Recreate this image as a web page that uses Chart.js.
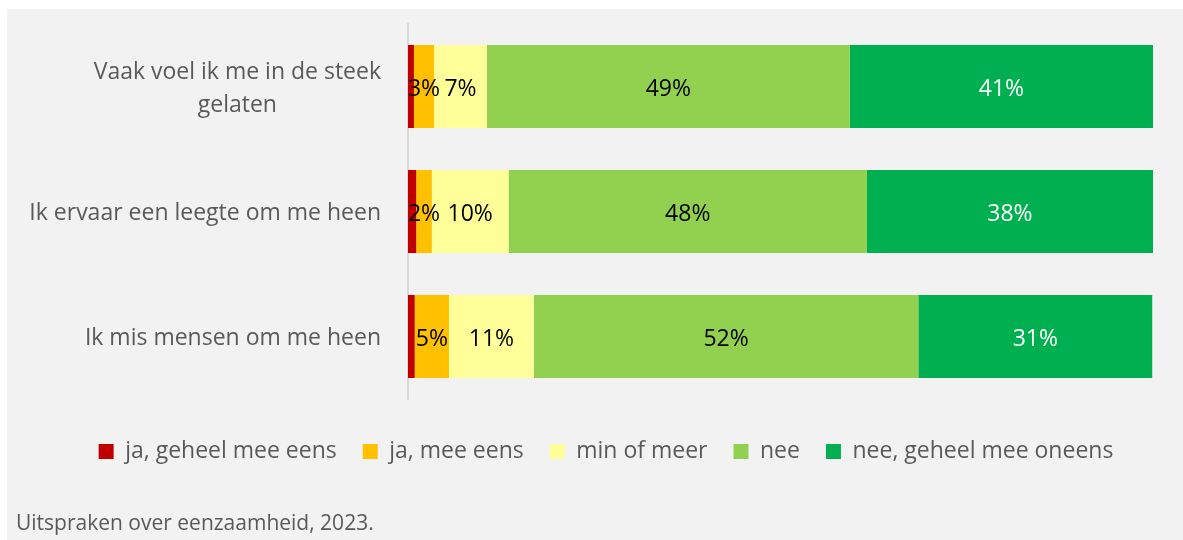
<!DOCTYPE html>
<html>
<head>
<meta charset="utf-8">
<script src="https://cdn.jsdelivr.net/npm/chart.js@4"></script>
<style>
  body { margin: 0; background: #ffffff; }
  #panel { position: absolute; left: 7px; top: 9px; width: 1176px; height: 531px; background: #f2f2f2; }
  #chartcontainer { position: absolute; left: 0; top: 0; }
  #footer { position: absolute; left: 9px; top: 499px; font-family: "Open Sans", sans-serif; font-size: 21px; color: #595959; }
</style>
</head>
<body>
<div id="panel">
  <canvas id="chartcontainer" width="1176" height="531"></canvas>
  <div id="footer">Uitspraken over eenzaamheid, 2023.</div>
</div>
<script>
// statements (multi-line labels as shown in the picture)
var categories = [
    ["Vaak voel ik me in de steek", "gelaten"],
    ["Ik ervaar een leegte om me heen"],
    ["Ik mis mensen om me heen"]
];
var seriesNames = ["ja, geheel mee eens", "ja, mee eens", "min of meer", "nee", "nee, geheel mee oneens"];
var seriesColors = ["#C00000", "#FFC000", "#FFFF99", "#92D050", "#00B050"];

// percentages per statement
var jaGeheel = [0.8, 1.1, 0.9];
var jaMee = [2.7, 2.1, 4.6];
var minOfMeer = [7.1, 10.3, 11.4];
var nee = [48.7, 48.1, 51.6];
var neeGeheel = [40.7, 38.4, 31.4];

var FONT = '"Open Sans", sans-serif';
var TEXT_GREY = "#595959";

// category labels: block right aligned, lines centred inside the block
var categoryLabels = {
    id: "categoryLabels",
    afterDraw: function (chart) {
        var ctx = chart.ctx;
        var yScale = chart.scales.y;
        var right = chart.chartArea.left - 27;
        ctx.save();
        ctx.font = "23px " + FONT;
        ctx.fillStyle = TEXT_GREY;
        ctx.textAlign = "center";
        ctx.textBaseline = "middle";
        categories.forEach(function (lines, i) {
            var w = Math.max.apply(null, lines.map(function (l) { return ctx.measureText(l).width; }));
            var cx = right - w / 2;
            var cy = yScale.getPixelForValue(i) + 2;
            lines.forEach(function (l, j) {
                ctx.fillText(l, cx, cy + (j - (lines.length - 1) / 2) * 33);
            });
        });
        ctx.restore();
    }
};

// percentage labels inside the bars (none for the tiny first series)
var barLabels = {
    id: "barLabels",
    afterDatasetsDraw: function (chart) {
        var ctx = chart.ctx;
        ctx.save();
        ctx.font = "23px " + FONT;
        ctx.textAlign = "center";
        ctx.textBaseline = "middle";
        chart.data.datasets.forEach(function (ds, di) {
            if (di === 0) return;
            ctx.fillStyle = di === 4 ? "#ffffff" : "#000000";
            chart.getDatasetMeta(di).data.forEach(function (bar, i) {
                var p = bar.getCenterPoint();
                ctx.fillText(Math.round(ds.data[i]) + "%", p.x, p.y + 3);
            });
        });
        ctx.restore();
    }
};

var seriesValues = [jaGeheel, jaMee, minOfMeer, nee, neeGeheel];

var options = {
    type: "bar",
    data: {
        labels: categories.map(function (c) { return c.join(" "); }),
        datasets: seriesNames.map(function (name, i) {
            return {
                label: name,
                data: seriesValues[i],
                backgroundColor: seriesColors[i],
                borderWidth: 0,
                barPercentage: 0.664,
                categoryPercentage: 1.0
            };
        })
    },
    options: {
        indexAxis: "y",
        responsive: false,
        animation: false,
        layout: {
            padding: { left: 52, right: 30, top: 15, bottom: 67 }
        },
        scales: {
            x: {
                stacked: true,
                min: 0,
                max: 100,
                grid: { display: false },
                border: { display: false },
                ticks: { display: false },
                afterFit: function (scale) { scale.height = 15; }
            },
            y: {
                stacked: true,
                grid: { display: false, drawTicks: false },
                border: { display: true, color: "#d9d9d9", width: 2 },
                ticks: { display: false },
                afterFit: function (scale) { scale.width = 349; }
            }
        },
        plugins: {
            legend: {
                position: "bottom",
                labels: {
                    boxWidth: 15,
                    boxHeight: 15,
                    padding: 26,
                    color: TEXT_GREY,
                    font: { family: FONT, size: 23 }
                }
            },
            tooltip: { enabled: false }
        }
    },
    plugins: [categoryLabels, barLabels]
};
const ctx = document.getElementById("chartcontainer").getContext("2d");
const chart = new Chart(ctx, options);
</script>
</body>
</html>
